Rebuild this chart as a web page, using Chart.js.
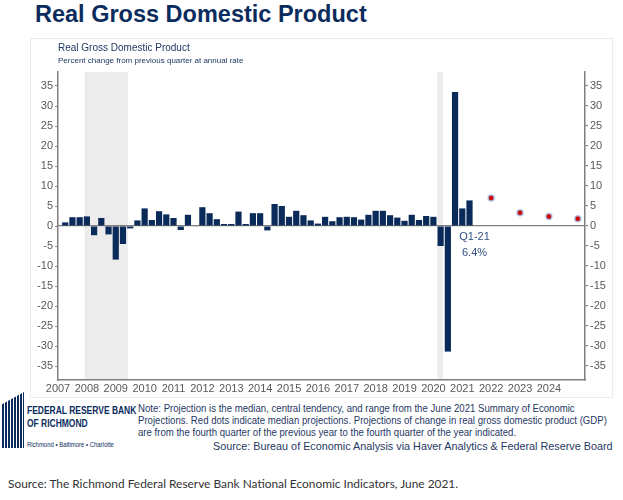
<!DOCTYPE html>
<html>
<head>
<meta charset="utf-8">
<script src="https://cdn.jsdelivr.net/npm/chart.js@4"></script>
<style>
  html, body { margin: 0; padding: 0; background: #fff; }
  body { width: 623px; height: 500px; position: relative; overflow: hidden; font-family: "Liberation Sans", Arial, sans-serif; }
  .abs { position: absolute; white-space: nowrap; }
  #title { left: 35px; top: 1px; font-size: 23.5px; font-weight: bold; color: #0c2c5e; }
  #card { left: 30px; top: 38px; width: 581px; height: 358px; border: 1px solid #ececec; }
  #chartBox { position: absolute; left: 30px; top: 38px; width: 582px; height: 359px; }
  #innerTitle { left: 58px; top: 42px; font-size: 10px; color: #1f3864; }
  #innerSub { left: 58px; top: 56px; font-size: 8px; color: #1f3864; }
  #note { left: 138px; top: 402px; font-size: 10.5px; line-height: 12px; color: #1f3864; transform: scaleX(0.915); transform-origin: left top; }
  #source { left: 213px; top: 440px; font-size: 11.5px; color: #1f3864; transform: scaleX(0.94); transform-origin: left top; }
  #footer { left: 8px; top: 476px; font-family: Lato, "Open Sans", sans-serif; font-size: 11.9px; color: #333; }
  #logoMark { left: 2px; top: 392px; width: 22px; height: 56px; background: repeating-linear-gradient(90deg, #0c2c5e 0 2px, #fff 2px 3px); clip-path: polygon(0 22%, 100% 0, 100% 100%, 0 100%); }
  #logo1 { left: 27px; top: 404px; font-size: 11px; font-weight: bold; color: #0c2c5e; transform: scaleX(0.77); transform-origin: left top; }
  #logo2 { left: 27px; top: 417px; font-size: 11px; font-weight: bold; color: #0c2c5e; transform: scaleX(0.77); transform-origin: left top; }
  #logo3 { left: 27px; top: 441px; font-size: 7px; color: #0c2c5e; transform: scaleX(0.85); transform-origin: left top; }
</style>
</head>
<body>
<div id="title" class="abs">Real Gross Domestic Product</div>
<div id="card" class="abs"></div>
<div id="chartBox"><canvas id="gdp"></canvas></div>
<div id="innerTitle" class="abs">Real Gross Domestic Product</div>
<div id="innerSub" class="abs">Percent change from previous quarter at annual rate</div>
<div id="logoMark" class="abs"></div>
<div id="logo1" class="abs">FEDERAL RESERVE BANK</div>
<div id="logo2" class="abs">OF RICHMOND</div>
<div id="logo3" class="abs">Richmond • Baltimore • Charlotte</div>
<div id="note" class="abs">Note: Projection is the median, central tendency, and range from the June 2021 Summary of Economic<br>Projections. Red dots indicate median projections. Projections of change in real gross domestic product (GDP)<br>are from the fourth quarter of the previous year to the fourth quarter of the year indicated.</div>
<div id="source" class="abs">Source: Bureau of Economic Analysis via Haver Analytics &amp; Federal Reserve Board</div>
<div id="footer" class="abs">Source: The Richmond Federal Reserve Bank National Economic Indicators, June 2021.</div>
<script>
// Quarterly real GDP growth, % change at annual rate
const gdpQuarters = [
  '2007Q1','2007Q2','2007Q3','2007Q4','2008Q1','2008Q2','2008Q3','2008Q4',
  '2009Q1','2009Q2','2009Q3','2009Q4','2010Q1','2010Q2','2010Q3','2010Q4',
  '2011Q1','2011Q2','2011Q3','2011Q4','2012Q1','2012Q2','2012Q3','2012Q4',
  '2013Q1','2013Q2','2013Q3','2013Q4','2014Q1','2014Q2','2014Q3','2014Q4',
  '2015Q1','2015Q2','2015Q3','2015Q4','2016Q1','2016Q2','2016Q3','2016Q4',
  '2017Q1','2017Q2','2017Q3','2017Q4','2018Q1','2018Q2','2018Q3','2018Q4',
  '2019Q1','2019Q2','2019Q3','2019Q4','2020Q1','2020Q2','2020Q3','2020Q4',
  '2021Q1'
];
const gdpGrowth = [
  0.9, 2.2, 2.2, 2.4, -2.3, 2.0, -2.1, -8.4,
  -4.5, -0.6, 1.4, 4.4, 1.5, 3.7, 2.9, 2.0,
  -1.0, 2.8, -0.1, 4.7, 3.2, 1.7, 0.5, 0.5,
  3.6, 0.5, 3.2, 3.2, -1.1, 5.5, 5.0, 2.3,
  3.8, 2.7, 1.4, 0.6, 2.3, 1.2, 2.2, 2.3,
  2.2, 1.6, 2.8, 3.8, 3.8, 2.7, 2.1, 1.3,
  2.8, 1.5, 2.5, 2.3, -5.0, -31.4, 33.5, 4.4,
  6.4
];

// FOMC June 2021 SEP medians (Q4/Q4), marked at the fourth quarter
const projQuarters = ['2021Q4', '2022Q4', '2023Q4', '2024Q4'];
const projMedian = [7.0, 3.3, 2.4, 1.8];

// Recession shading (in fractional years)
const recessionStart = [2007.92, 2020.14];
const recessionEnd = [2009.42, 2020.33];

const yTicks = [-35, -30, -25, -20, -15, -10, -5, 0, 5, 10, 15, 20, 25, 30, 35];
const yearLabels = [2007, 2008, 2009, 2010, 2011, 2012, 2013, 2014, 2015, 2016,
  2017, 2018, 2019, 2020, 2021, 2022, 2023, 2024];

const annotationText = ['Q1-21', '6.4%'];

// quarter label -> time at quarter end
function qTime(q) {
  return Number(q.slice(0, 4)) + Number(q.slice(5)) * 0.25;
}

const FONT = '"Liberation Sans", Arial, sans-serif';
const GRAY = '#7f7f7f';

const backgroundPlugin = {
  id: 'recessions',
  beforeDraw(chart) {
    const { ctx, chartArea: a, scales: { x } } = chart;
    ctx.save();
    ctx.fillStyle = '#ececec';
    recessionStart.forEach((s, i) => {
      const x0 = x.getPixelForValue(s);
      const x1 = x.getPixelForValue(recessionEnd[i]);
      ctx.fillRect(x0, a.top, x1 - x0, a.bottom - a.top);
    });
    ctx.restore();
  },
  afterDatasetsDraw(chart) {
    const { ctx, scales: { x, y } } = chart;
    const last = gdpQuarters.length - 1;
    const px = x.getPixelForValue(qTime(gdpQuarters[last])) + 5;
    ctx.save();
    ctx.fillStyle = '#2f5183';
    ctx.font = '11px ' + FONT;
    ctx.textAlign = 'center';
    ctx.textBaseline = 'middle';
    ctx.fillText(annotationText[0], px, y.getPixelForValue(-2.8));
    ctx.fillText(annotationText[1], px, y.getPixelForValue(-6.8));
    ctx.restore();
  }
};

function keepTicks(list) {
  return scale => { scale.ticks = list.map(v => ({ value: v })); };
}

const yCommon = {
  type: 'linear',
  min: -38.5,
  max: 38.5,
  afterBuildTicks: keepTicks(yTicks),
  border: { display: true, color: GRAY, width: 1.5 },
  ticks: { color: '#595959', font: { family: FONT, size: 11 }, padding: 2 }
};

new Chart(document.getElementById('gdp'), {
  data: {
    datasets: [{
      type: 'bar',
      label: 'Real GDP',
      data: gdpQuarters.map((q, i) => ({ x: qTime(q), y: gdpGrowth[i] })),
      backgroundColor: '#0a2a5a',
      borderColor: '#0a2a5a',
      borderWidth: 0,
      barPercentage: 0.86,
      categoryPercentage: 1,
      order: 2
    }, {
      type: 'line',
      label: 'Median projection',
      data: projQuarters.map((q, i) => ({ x: qTime(q), y: projMedian[i] })),
      showLine: false,
      pointRadius: 3,
      pointBackgroundColor: '#d10000',
      pointBorderColor: 'rgba(165,195,232,0.85)',
      pointBorderWidth: 1.5,
      order: 1
    }]
  },
  options: {
    responsive: true,
    maintainAspectRatio: false,
    animation: false,
    layout: { padding: { top: 34, left: 0, right: 0, bottom: 0 } },
    scales: {
      x: {
        type: 'linear',
        offset: false,
        min: 2007,
        max: 2025.25,
        afterBuildTicks: keepTicks(yearLabels),
        afterFit: s => {
          s.height = 17;
          s.paddingLeft = 0;
          s.paddingRight = 0;
        },
        grid: { display: false, drawTicks: false, tickLength: 0 },
        border: { display: true, color: GRAY, width: 1.5 },
        ticks: {
          color: '#595959',
          font: { family: FONT, size: 11 },
          padding: 2,
          maxRotation: 0,
          autoSkip: false,
          callback: v => String(v)
        }
      },
      y: {
        ...yCommon,
        position: 'left',
        afterFit: s => { s.width = 28; },
        grid: { drawOnChartArea: false, color: GRAY, tickLength: 3 }
      },
      y2: {
        ...yCommon,
        position: 'right',
        afterFit: s => { s.width = 27; },
        grid: {
          drawOnChartArea: true,
          tickLength: 3,
          color: c => (c.tick && c.tick.value === 0 ? GRAY : 'rgba(0,0,0,0)'),
          tickColor: GRAY,
          lineWidth: 1.2
        }
      }
    },
    plugins: {
      legend: { display: false },
      tooltip: { enabled: false }
    }
  },
  plugins: [backgroundPlugin]
});
</script>
</body>
</html>
